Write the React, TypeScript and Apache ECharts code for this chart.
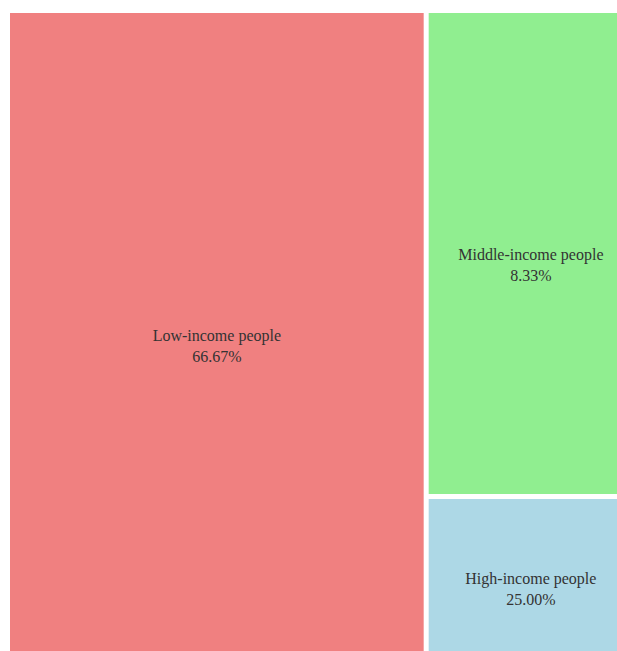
import React, { useEffect, useRef } from "react";
import * as echarts from "echarts";

// Tile names, the tile sizes as drawn in the reference, and the share printed in each tile
const names = ["Low-income people", "Middle-income people", "High-income people"];
const tileSizes = [66.67, 25.0, 8.33];
const shareLabels = [66.67, 8.33, 25.0];
const colors = ["#F08080", "#90EE90", "#ADD8E6"];

export default function App() {
  const ref = useRef<HTMLDivElement>(null);

  useEffect(() => {
    if (!ref.current) return;
    const chart = echarts.init(ref.current, undefined, { renderer: "svg" });

    const leaf = (i: number) => ({
      name: names[i],
      value: tileSizes[i],
      share: shareLabels[i].toFixed(2) + "%",
      itemStyle: { color: colors[i] },
    });

    const data = [
      leaf(0),
      {
        name: "",
        itemStyle: { color: "#ffffff", borderWidth: 0, gapWidth: 5 },
        label: { show: false },
        children: [leaf(1), leaf(2)],
      },
    ];

    chart.setOption({
      animation: false,
      series: [
        {
          type: "treemap",
          left: 10,
          top: 13,
          width: 623,
          height: 643,
          roam: false,
          nodeClick: false,
          silent: true,
          squareRatio: 2.5,
          breadcrumb: { show: false },
          itemStyle: { borderWidth: 0, gapWidth: 5, borderColor: "#ffffff" },
          levels: [{ itemStyle: { color: "#ffffff", borderWidth: 0, gapWidth: 5 } }],
          label: {
            show: true,
            position: "inside",
            align: "center",
            verticalAlign: "middle",
            offset: [0, 11],
            color: "#333333",
            fontFamily: "Liberation Serif",
            fontSize: 16,
            lineHeight: 21,
            formatter: (p: any) => (p.data && p.data.share ? `${p.name}\n${p.data.share}` : ""),
          },
          upperLabel: { show: false },
          data,
        },
      ],
    });

    return () => chart.dispose();
  }, []);

  return (
    <div
      ref={ref}
      style={{ position: "absolute", left: 0, top: 0, width: 617, height: 651 }}
    />
  );
}
